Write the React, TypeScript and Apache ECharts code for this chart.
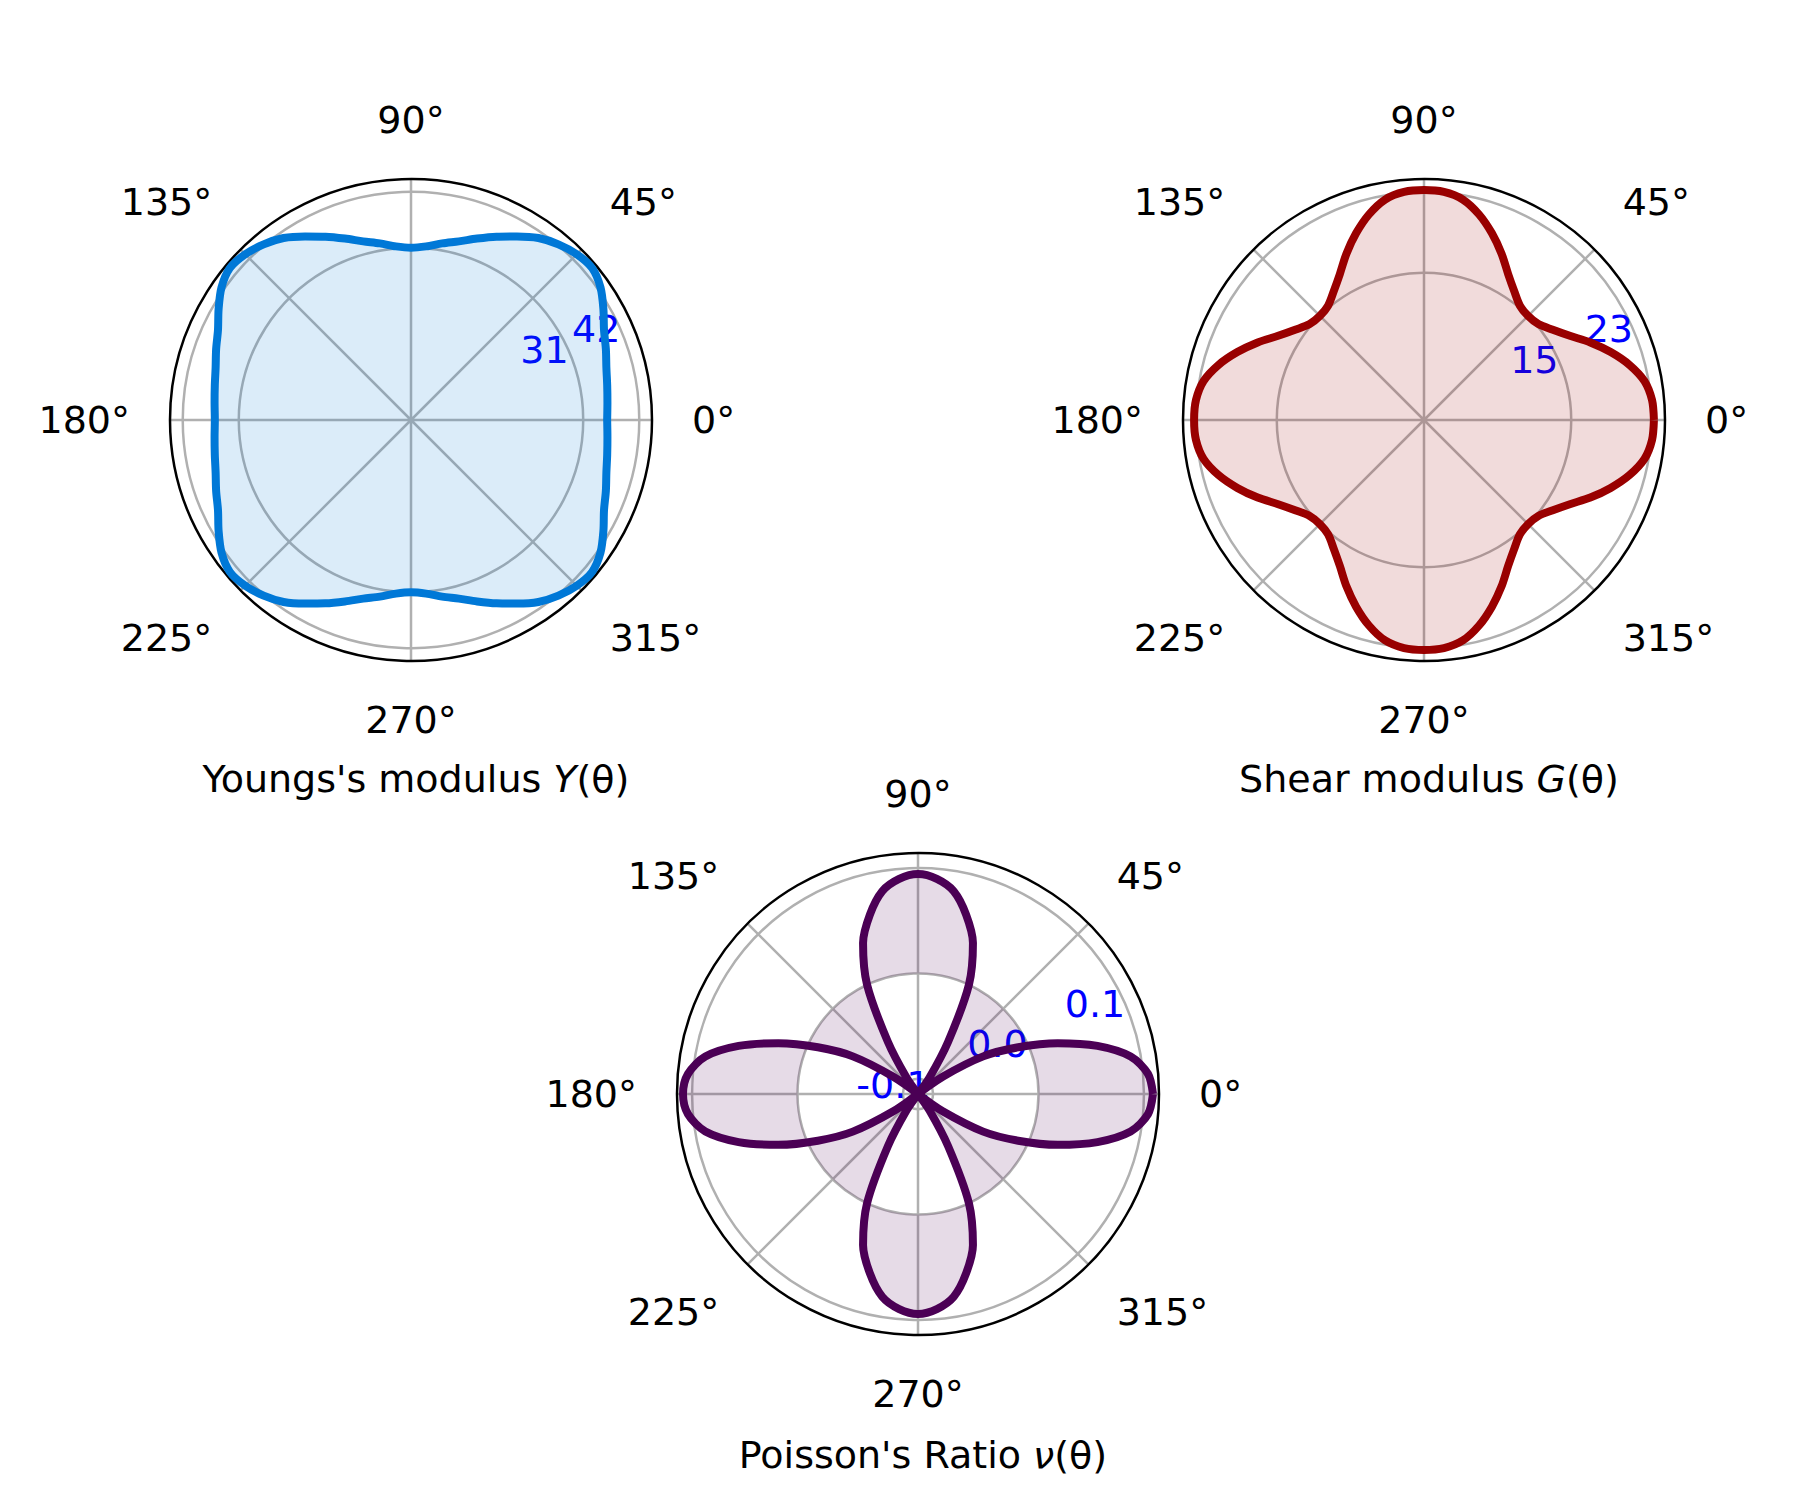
import { useEffect, useRef } from "react";
import * as echarts from "echarts";

// angles of one quadrant, 5° step (curves are symmetric about both axes)
const quadrantAngles = [0, 5, 10, 15, 20, 25, 30, 35, 40, 45, 50, 55, 60, 65, 70, 75, 80, 85, 90];
const youngQuadrant = [35.7, 35.9, 36.3, 36.9, 37.9, 39.0, 40.8, 42.6, 43.6, 43.2, 42.2, 40.8, 38.8, 36.9, 35.1, 33.5, 32.4, 31.4, 31.0];
const shearQuadrant = [23.2, 23.1, 22.6, 21.5, 20.1, 18.6, 17.1, 16.0, 15.2, 15.0, 15.2, 16.0, 17.1, 18.6, 20.1, 21.5, 22.6, 23.1, 23.2];
const poissonQuadrant = [0.1086, 0.1047, 0.0905, 0.0619, 0.0267, -0.0095, -0.0429, -0.0857, -0.1143, -0.1143, -0.1143, -0.0952, -0.0571, 0.0, 0.0381, 0.0619, 0.081, 0.0905, 0.0943];

const youngTicks = [31, 42];
const shearTicks = [15, 23];
const poissonTicks = [-0.1, 0.0, 0.1];
const angleTicks = [0, 45, 90, 135, 180, 225, 270, 315];

const youngRange = [-2.8, 44.5];
const shearRange = [0.4, 24.3];
const poissonRange = [-0.1143, 0.1143];

const FONT = "DejaVu Sans";

function fullCircle(q: number[]) {
  const out: number[][] = [];
  for (let a = 0; a <= 360; a += 5) {
    let m = a % 180;
    if (m > 90) m = 180 - m;
    out.push([q[quadrantAngles.indexOf(m)], a]);
  }
  return out;
}

const App = () => {
  const chartRef = useRef<HTMLDivElement>(null);

  useEffect(() => {
    const chart = echarts.init(chartRef.current, null, { renderer: "svg" });
    const R = 241;
    const panels = [
      { c: [411, 420], q: youngQuadrant, range: youngRange, ticks: youngTicks, line: "#0078d7", fill: "rgba(0,120,215,0.2)", origin: "start", fmt: (v: number) => v.toFixed(0) },
      { c: [1424, 420], q: shearQuadrant, range: shearRange, ticks: shearTicks, line: "#990000", fill: "rgba(153,0,0,0.2)", origin: "start", fmt: (v: number) => v.toFixed(0) },
      { c: [918, 1094], q: poissonQuadrant, range: poissonRange, ticks: poissonTicks, line: "#4b0055", fill: "rgba(75,0,85,0.2)", origin: "auto", fmt: (v: number) => v.toFixed(1) },
    ];
    const polar: any[] = [];
    const angleAxis: any[] = [];
    const radiusAxis: any[] = [];
    const series: any[] = [];
    panels.forEach((p, i) => {
      // main polar
      polar.push({ center: p.c, radius: R });
      angleAxis.push({
        polarIndex: 2 * i, type: "value", min: 0, max: 360, startAngle: 0, clockwise: false,
        axisLine: { lineStyle: { color: "#000", width: 2.5 } },
        axisTick: { show: false, customValues: angleTicks },
        splitLine: { lineStyle: { color: "#b0b0b0", width: 2.5 } },
        axisLabel: { customValues: angleTicks, margin: 40, color: "#000", fontSize: 38, fontFamily: FONT, formatter: (v: number) => v + "°" },
      });
      radiusAxis.push({
        polarIndex: 2 * i, type: "value", min: p.range[0], max: p.range[1],
        axisLine: { show: false },
        axisTick: { show: false, customValues: p.ticks },
        axisLabel: { show: false },
        splitLine: { lineStyle: { color: "#b0b0b0", width: 2.5 } },
      });
      // label-only polar at 22.5°
      polar.push({ center: p.c, radius: R });
      angleAxis.push({
        polarIndex: 2 * i + 1, type: "value", min: 0, max: 360, startAngle: 22.5, clockwise: false,
        axisLine: { show: false }, axisTick: { show: false }, axisLabel: { show: false }, splitLine: { show: false },
      });
      radiusAxis.push({
        polarIndex: 2 * i + 1, type: "value", min: p.range[0], max: p.range[1],
        axisLine: { show: false }, axisTick: { show: false }, splitLine: { show: false },
        axisLabel: { customValues: p.ticks, color: "#0000ff", fontSize: 38, fontFamily: FONT, margin: 4, formatter: p.fmt },
      });
      series.push({
        type: "line", coordinateSystem: "polar", polarIndex: 2 * i, data: fullCircle(p.q),
        symbol: "none", smooth: 0.3, z: 3,
        lineStyle: { color: p.line, width: 8 },
        areaStyle: { color: p.fill, origin: p.origin },
      });
    });

    chart.setOption({
      animation: false,
      polar, angleAxis, radiusAxis, series,
      title: [
        { text: "Youngs's modulus {i|Y}(θ)", left: 411, top: 755 },
        { text: "Shear modulus {i|G}(θ)", left: 1424, top: 755 },
        { text: "Poisson's Ratio {i|ν}(θ)", left: 918, top: 1431 },
      ].map((t) => ({
        ...t, textAlign: "center",
        textStyle: { fontSize: 38, fontWeight: "normal", fontFamily: FONT, color: "#000", rich: { i: { fontSize: 38, fontStyle: "italic", fontFamily: FONT } } },
      })),
    });
    return () => chart.dispose();
  }, []);

  return <div ref={chartRef} style={{ position: "absolute", left: 0, top: 0, width: 1800, height: 1500, background: "#fff" }}></div>;
};

export default App;
